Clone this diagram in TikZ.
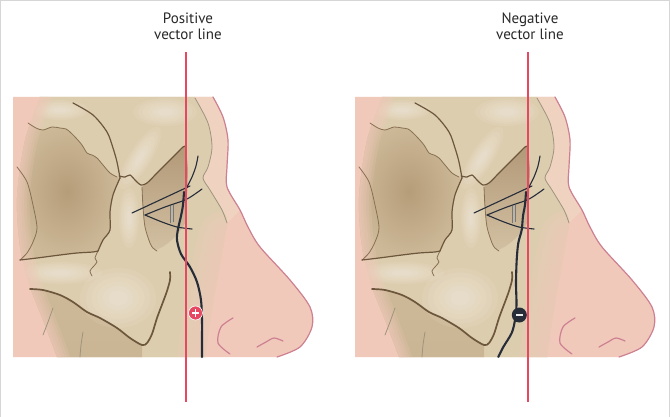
\documentclass[tikz,border=0pt]{standalone}
\usepackage{fontspec}
\setmainfont{PT Sans}
\definecolor{skin}{RGB}{241,201,187}
\definecolor{skinlt}{RGB}{240,210,192}
\definecolor{skinline}{RGB}{204,128,146}
\definecolor{bone}{RGB}{221,205,175}
\definecolor{bonedark}{RGB}{182,157,122}
\definecolor{bonemid}{RGB}{205,185,152}
\definecolor{orbtop}{RGB}{178,153,120}
\definecolor{orbbot}{RGB}{210,192,162}
\definecolor{boneline}{RGB}{108,86,60}
\definecolor{sutline}{RGB}{136,112,82}
\definecolor{grayline}{RGB}{158,148,126}
\definecolor{nerve}{RGB}{38,44,56}
\definecolor{irisline}{RGB}{112,120,132}
\definecolor{vred}{RGB}{230,72,98}
\definecolor{framegray}{RGB}{214,214,214}
\definecolor{txt}{RGB}{40,40,40}
\tikzset{
  bline/.style={draw=boneline, line width=1.2pt, line cap=round, line join=round},
  boldline/.style={draw=boneline, line width=1.7pt, line cap=round, line join=round},
  sline/.style={draw=sutline, line width=0.8pt, line cap=round, line join=round},
  gline/.style={draw=grayline, line width=0.8pt, line cap=round},
  eyeline/.style={draw=nerve, line width=1.1pt, line cap=round, line join=round},
  nerveline/.style={draw=nerve, line width=2.1pt, line cap=round, line join=round},
  noseline/.style={draw=skinline, line width=1.2pt, line cap=round},
  vecbar/.style={rectangle, fill=vred, draw=none, inner sep=0pt, minimum width=1.9pt, minimum height=350pt},
  glow/.style={fill=white, opacity=0.07},
  pinkfade/.style={draw=skin, opacity=0.2, line cap=round, line join=round},
  lbl/.style={font=\fontsize{15}{16}\selectfont, text=txt, align=center, inner sep=0pt, anchor=south},
}
\newcommand\boneoutline{(195,97) -- (40,97) -- plot[smooth] coordinates {(40,97) (25,140) (17,197) (20,247) (30,287) (43,320) (57,357)} -- (205,357) -- plot[smooth] coordinates {(205,357) (212,310) (220,265) (227,223) (222,210) (210,190) (203,178) (208,167) (212,147) (208,123) (195,98)} -- cycle}
\newcommand\facepanel{%
  \begin{scope}
  % skin
  \fill[skin] (13,97) -- plot[smooth] coordinates {(213,97) (223,117) (228,140) (227,167) (227,187) (240,210) (248,227) (260,247) (290,280) (310,307) (312,327) (300,347) (277,357)} -- (13,357) -- cycle;
  \fill[skinlt] (195,97) -- (213,97) -- plot[smooth] coordinates {(213,97) (223,117) (228,140) (227,167) (227,187) (240,210)} -- (227,223) -- plot[smooth] coordinates {(227,223) (222,210) (210,190) (203,178) (208,167) (212,147) (208,123) (195,98)} -- cycle;
  \begin{scope}
  \clip \boneoutline;
  \fill[bone] (0,90) rectangle (240,360);
  % dark temporal region
  \shade[inner color=bonedark, outer color=bonemid] plot[smooth] coordinates {(28,123) (36,128) (43,130) (52,127) (60,128) (66,129) (70,132) (76,138) (82,145) (87,153) (92,155) (97,158) (103,165) (110,173) (117,177) (120,178)} -- plot[smooth] coordinates {(120,178) (113,195) (110,212) (110,230) (103,240) (98,251)} -- plot[smooth] coordinates {(98,251) (93,252) (77,253) (60,255) (37,258) (20,260)} -- (18,230) -- (14,190) -- (16,150) -- cycle;
  % orbit
  \shade[top color=orbtop, bottom color=orbbot] plot[smooth] coordinates {(142,187) (147,183) (157,173) (167,163) (177,153) (183,147) (186,146)} -- (188,170) -- (187,200) -- (186,222) -- plot[smooth] coordinates {(186,222) (176,236) (164,246) (156,250)} -- plot[smooth] coordinates {(156,250) (150,243) (145,227) (143,207) (142,187)} -- cycle;
  % mandible region
  \shade[top color=bonemid, bottom color=bonemid!85!bonedark] plot[smooth] coordinates {(20,289) (43,290) (60,295) (73,302) (87,312) (100,318) (117,328) (130,338) (142,345)} -- (142,360) -- (10,360) -- cycle;
  % highlights
  \foreach \gl in {1,0.85,0.7,0.55,0.4,0.25} {
    \fill[glow] (140,158) ellipse [x radius=\gl*11, y radius=\gl*36, rotate=-32];
    \fill[glow] (129,218) ellipse [x radius=\gl*10, y radius=\gl*30];
    \fill[glow] (60,273) ellipse [x radius=\gl*42, y radius=\gl*11];
    \fill[glow] (118,298) ellipse [x radius=\gl*38, y radius=\gl*30];
    \fill[glow] (165,112) ellipse [x radius=\gl*32, y radius=\gl*14];
    \fill[glow] (60,110) ellipse [x radius=\gl*28, y radius=\gl*10];
  }
  % fade of bone into skin (right side and left rim)
  \foreach \w in {56,44,32,20,10} {
    \path[pinkfade, line width=\w pt] plot[smooth] coordinates {(226,238) (220,265) (212,310) (205,357) (204,380)};
    \path[pinkfade, line width=0.45*\w pt] plot[smooth] coordinates {(40,90) (40,97) (25,140) (17,197) (20,247) (30,287) (43,320) (57,357) (60,370)};
  }
  \end{scope}
  % bone lines
  \path[bline] plot[smooth] coordinates {(73,103) (93,115) (107,132) (113,148) (117,162) (120,178)};
  \path[sline] plot[smooth] coordinates {(28,123) (36,128) (43,130) (52,127) (60,128) (66,129) (70,132) (76,138) (82,145) (87,153) (92,155) (97,158) (103,165) (110,173) (117,177)};
  \path[sline] plot[smooth] coordinates {(17,167) (27,182) (33,205) (37,228) (33,242) (27,253) (20,260)};
  \path[bline] plot[smooth] coordinates {(120,178) (113,195) (110,212) (110,230) (103,240) (98,251)};
  \path[sline] plot[smooth] coordinates {(98,251) (95,258) (97,262) (93,267) (90,271) (92,276)};
  \path[bline] plot[smooth] coordinates {(20,260) (37,258) (60,255) (77,253) (93,252) (98,251)};
  \path[bline] plot[smooth] coordinates {(119,176) (125,177) (130,175) (135,180) (141,185) (147,183) (157,173) (167,163) (177,153) (183,147) (186,146)};
  \path[sline] plot[smooth] coordinates {(142,187) (143,207) (145,227) (150,243) (153,248) (157,251)};
  \path[boldline] plot[smooth] coordinates {(30,289) (43,290) (60,295) (73,302) (87,312) (100,318) (117,328) (130,338) (142,345) (147,343) (152,334) (157,318) (163,302) (167,291) (170,280) (170,272)};
  \path[gline] plot[smooth] coordinates {(53,308) (48,322) (43,335)};
  \path[gline] plot[smooth] coordinates {(83,332) (81,345) (80,357)};
  \path[gline] plot[smooth] coordinates {(195,98) (208,123) (212,147) (208,167) (203,178) (210,190) (222,210) (227,223)};
  % nose
  \path[noseline] plot[smooth] coordinates {(213,97) (223,117) (228,140) (227,167) (227,187) (240,210) (248,227) (260,247) (290,280) (310,307) (312,327) (300,347) (277,357)};
  \path[noseline] plot[smooth] coordinates {(233,318) (221,327) (218,343) (230,354)};
  \path[noseline] plot[smooth] coordinates {(257,347) (266,342) (274,338) (283,341)};
  % eye
  \draw[irisline, line width=0.6pt] (170,206) -- (170,223) (173,205) -- (173,222);
  \path[eyeline] plot[smooth] coordinates {(198,156) (196,166) (192,177) (186,189)};
  \path[eyeline] (132,213) -- (190,186);
  \path[eyeline] plot[smooth] coordinates {(145,215) (165,207) (185,200) (195,194) (202,189)};
  \path[eyeline] plot[smooth] coordinates {(145,215) (162,222) (177,227) (192,229)};
  \end{scope}
}
\begin{document}
\begin{tikzpicture}[x=1pt,y=-1pt]
\useasboundingbox (0,0) rectangle (670,417);
\fill[white] (0,0) rectangle (670,417);
\draw[framegray, line width=1pt] (0.5,417) -- (0.5,0.5) -- (669.5,0.5) -- (669.5,417);
% left panel
\begin{scope}
\facepanel
\path[nerveline] plot[smooth] coordinates {(184,192) (183,205) (181,216) (178,229) (177,240) (181,254) (190,267) (197,282) (201,300) (202,320) (202,340) (202,357)};
\end{scope}
% right panel
\begin{scope}[shift={(342,0)}]
\facepanel
\path[nerveline] plot[smooth] coordinates {(184,192) (183,205) (181,216) (179.7,230) (176.3,243) (174.7,260) (174,283) (174.5,305) (173,320) (169.7,333) (161.3,347) (156.3,357)};
\end{scope}
% vector lines, markers and labels
\node[vecbar] (pline) at (186,227) {};
\node[vecbar] (nline) at (528,227) {};
\node[circle, fill=vred, draw=white, line width=0.6pt, minimum size=14pt, inner sep=0pt] (mplus) at (195.5,313) {};
\path[fill=white] ([xshift=-3.8pt,yshift=-0.9pt]mplus.center) rectangle ([xshift=3.8pt,yshift=0.9pt]mplus.center);
\path[fill=white] ([xshift=-0.9pt,yshift=-3.8pt]mplus.center) rectangle ([xshift=0.9pt,yshift=3.8pt]mplus.center);
\node[circle, fill=nerve, minimum size=15pt, inner sep=0pt] (mminus) at (519.3,315) {};
\path[fill=white!85!gray] ([xshift=-3.8pt,yshift=-1pt]mminus.center) rectangle ([xshift=3.8pt,yshift=1pt]mminus.center);
\node[lbl] (tpos) at (188,40) {Positive\\vector line};
\node[lbl] (tneg) at (530,40) {Negative\\vector line};
\end{tikzpicture}
\end{document}
